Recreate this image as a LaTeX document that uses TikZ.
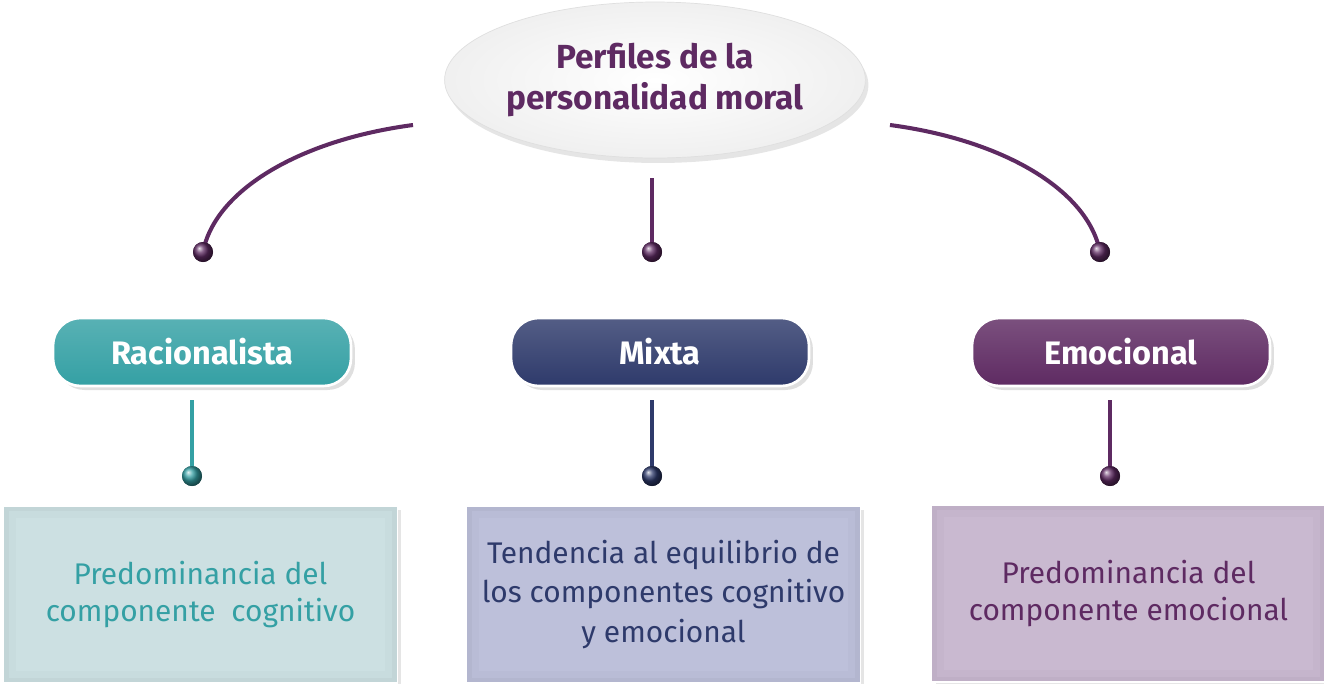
\documentclass[tikz,border=0pt]{standalone}
\usepackage{fontspec}
\setmainfont{Fira Sans}
\usetikzlibrary{shapes.geometric,shadows,positioning}

\definecolor{racio}{HTML}{34A0A4}
\definecolor{mixta}{HTML}{2E3A6B}
\definecolor{emoc}{HTML}{5E2A62}
\definecolor{raciobox}{HTML}{CCE0E2}
\definecolor{mixtabox}{HTML}{BDC0DA}
\definecolor{emocbox}{HTML}{C9B9D0}

\tikzset{
  knob/.style={circle, minimum size=0.4cm, inner sep=0pt, ball color=#1},
  conn/.style={line width=2.3pt, draw=#1},
  btn/.style={rounded corners=0.55cm, minimum width=5.96cm, minimum height=1.36cm,
    draw=white, line width=1.5pt, top color=#1!82!white, bottom color=#1,
    drop shadow={opacity=0.25, shadow xshift=0.08cm, shadow yshift=-0.08cm},
    text=white, font=\bfseries\fontsize{18.5}{22}\selectfont},
  infobox/.style={minimum width=7.88cm, minimum height=3.54cm, fill=#1, draw=white,
    line width=1pt, drop shadow={opacity=0.2, shadow xshift=0.08cm, shadow yshift=-0.08cm},
    path picture={
      \draw[line width=14pt, draw=#1!70!black, opacity=0.06] (path picture bounding box.south west) rectangle (path picture bounding box.north east);
      \draw[line width=6pt, draw=#1!70!black, opacity=0.1] (path picture bounding box.south west) rectangle (path picture bounding box.north east);
    },
    align=center, font=\fontsize{17}{21}\selectfont}
}

\begin{document}
\begin{tikzpicture}[x=0.02cm,y=-0.02cm]
    \useasboundingbox (0,0) rectangle (1324,683);
    \fill[white] (0,0) rectangle (1324,683);

    \node[ellipse, minimum width=8.28cm, minimum height=3.12cm, inner sep=0pt, draw=gray!25,
        inner color=white, outer color=gray!12,
        drop shadow={opacity=0.2, shadow xshift=0.06cm, shadow yshift=-0.1cm},
        align=center, text=emoc, font=\bfseries\fontsize{19}{23}\selectfont] (perf) at (655,80)
        {Perfiles de la\\personalidad moral};

    \coordinate (cl) at (413,125);
    \coordinate (cm) at (652,178);
    \coordinate (cr) at (890,125);
    \node[knob=emoc] (dl) at (203,252) {};
    \node[knob=emoc] (dm) at (652,252) {};
    \node[knob=emoc] (dr) at (1100,252) {};
    \draw[conn=emoc] (cl) .. controls (300,140) and (215,190) .. (dl.center);
    \draw[conn=emoc] (cm) -- (dm.center);
    \draw[conn=emoc] (cr) .. controls (1003,140) and (1088,190) .. (dr.center);
    \node[knob=emoc] at (dl) {};
    \node[knob=emoc] at (dm) {};
    \node[knob=emoc] at (dr) {};

    \node[btn=racio] (rac) at (202,352) {Racionalista};
    \node[btn=mixta] (mix) at (660,352) {Mixta};
    \node[btn=emoc] (emo) at (1121,352) {Emocional};

    \coordinate (rs) at (192,400);
    \coordinate (ms) at (652,400);
    \coordinate (es) at (1110,400);
    \node[knob=racio] (rd) at (192,476) {};
    \node[knob=mixta] (md) at (652,476) {};
    \node[knob=emoc] (ed) at (1110,476) {};
    \draw[conn=racio] (rs) -- (rd.center);
    \draw[conn=mixta] (ms) -- (md.center);
    \draw[conn=emoc] (es) -- (ed.center);
    \node[knob=racio] at (rd) {};
    \node[knob=mixta] at (md) {};
    \node[knob=emoc] at (ed) {};

    \node[infobox=raciobox, text=racio] (rbox) at (200.5,594.5)
        {Predominancia del\\componente\ \ cognitivo};
    \node[infobox=mixtabox, text=mixta, font=\fontsize{17}{22.7}\selectfont] (mbox) at (663.5,594.5)
        {Tendencia al equilibrio de\\los componentes cognitivo\\y emocional};
    \node[infobox=emocbox, text=emoc] (ebox) at (1128.5,593.5)
        {Predominancia del\\componente emocional};
\end{tikzpicture}
\end{document}
